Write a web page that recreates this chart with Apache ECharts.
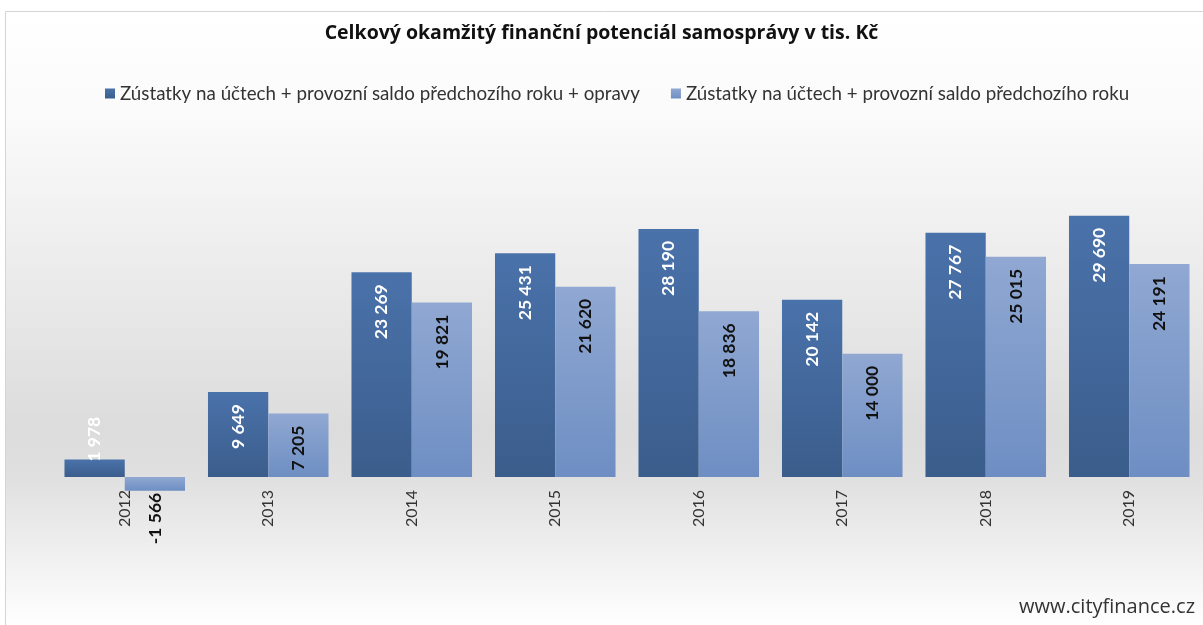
<!DOCTYPE html>
<html>
<head>
<meta charset="utf-8">
<script src="https://cdn.jsdelivr.net/npm/echarts@6/dist/echarts.min.js"></script>
<style>
html,body{margin:0;padding:0;background:#fff;}
#c{width:1203px;height:625px;}
</style>
</head>
<body>
<div id="c"></div>
<script>
const titleText = 'Celkový okamžitý finanční potenciál samosprávy v tis. Kč';
const categories = ['2012','2013','2014','2015','2016','2017','2018','2019'];
const seriesNames = [
  'Zústatky na účtech + provozní saldo předchozího roku + opravy',
  'Zústatky na účtech + provozní saldo předchozího roku'
];
const valuesWithCorrections = [1978, 9649, 23269, 25431, 28190, 20142, 27767, 29690];
const valuesWithout = [-1566, 7205, 19821, 21620, 18836, 14000, 25015, 24191];
const watermark = 'www.cityfinance.cz';

function fmt(v){
  const s = Math.abs(v).toString().replace(/\B(?=(\d{3})+(?!\d))/g, ' ');
  return (v < 0 ? '-' : '') + s;
}
const FONT = 'Lato, "Open Sans", sans-serif';
const FONT2 = '"Open Sans", Lato, sans-serif';

function grad(top, bottom){
  return new echarts.graphic.LinearGradient(0,0,0,1,[{offset:0,color:top},{offset:1,color:bottom}]);
}

function makeData(arr){
  return arr.map(v => {
    if (v < 0) {
      return {value:v, label:{position:'bottom', distance:2, align:'right', verticalAlign:'middle'}};
    }
    if (v < 4000) {
      return {value:v, label:{position:'top', distance:-2, align:'left', verticalAlign:'middle'}};
    }
    return v;
  });
}

const chart = echarts.init(document.getElementById('c'), null, {renderer:'canvas'});
chart.setOption({
  animation:false,
  backgroundColor:'#ffffff',
  graphic:[
    {type:'rect', z:-10, silent:true, shape:{x:5.5,y:11.5,width:1198,height:614},
     style:{fill:new echarts.graphic.LinearGradient(0,0,0,1,[
       {offset:0,color:'#ffffff'},{offset:0.18,color:'#fafafa'},{offset:0.68,color:'#dcdcdc'},
       {offset:0.76,color:'#e0e0e0'},{offset:1,color:'#ffffff'}]),
       stroke:'#d4d4d4', lineWidth:1}},
    {type:'text', right:8, top:597, z:10,
     style:{text:watermark, font:'20px ' + FONT2, fill:'#333333'}}
  ],
  title:{
    text:titleText, left:'center', top:18,
    textStyle:{fontFamily:FONT2, fontWeight:'bold', fontSize:19.5, color:'#111111'}
  },
  legend:{
    top:79, left:100, itemWidth:10, itemHeight:10, icon:'rect', itemGap:31,
    textStyle:{fontFamily:FONT, fontSize:18.75, color:'#333333'},
    data:seriesNames
  },
  grid:{left:53, right:2, top:169, bottom:104, containLabel:false},
  xAxis:{
    type:'category', data:categories,
    axisLine:{show:false, onZero:false}, axisTick:{show:false},
    axisLabel:{rotate:90, margin:-31, fontFamily:FONT, fontSize:16, color:'#333333'}
  },
  yAxis:{
    type:'value', min:-5000, max:35000, show:false,
    splitLine:{show:false}
  },
  series:[
    {
      name:seriesNames[0], type:'bar', data:makeData(valuesWithCorrections),
      barGap:'0%', barCategoryGap:'16%',
      itemStyle:{color:grad('#4a72aa','#3b5d8c')},
      label:{show:true, position:'insideTop', distance:12, rotate:90, align:'right', verticalAlign:'middle',
        formatter:p=>fmt(p.value), fontFamily:FONT, fontWeight:'bold', fontSize:17.5, color:'#ffffff'}
    },
    {
      name:seriesNames[1], type:'bar', data:makeData(valuesWithout),
      barGap:'0%', barCategoryGap:'16%',
      itemStyle:{color:grad('#90a8d2','#6e8ec3')},
      label:{show:true, position:'insideTop', distance:12, rotate:90, align:'right', verticalAlign:'middle',
        formatter:p=>fmt(p.value), fontFamily:FONT, fontWeight:'bold', fontSize:17.5, color:'#111111'}
    }
  ]
});
</script>
</body>
</html>
